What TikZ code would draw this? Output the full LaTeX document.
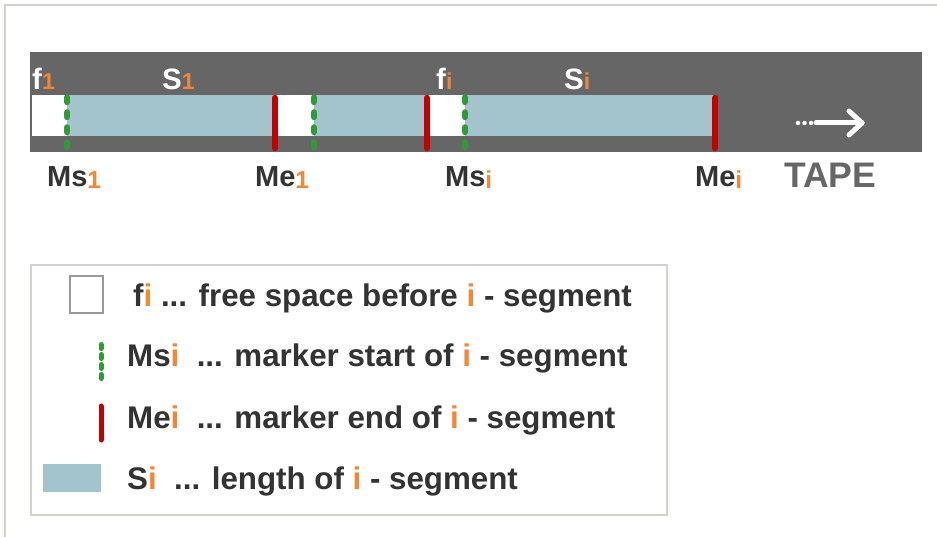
\documentclass[tikz,border=0pt]{standalone}
\usepackage{fontspec}
\setmainfont{Liberation Sans}
\usetikzlibrary{arrows.meta}
\definecolor{tapegray}{HTML}{666666}
\definecolor{segblue}{HTML}{A3C4CD}
\definecolor{markgreen}{HTML}{2E9B36}
\definecolor{markred}{HTML}{C40000}
\definecolor{idxorange}{HTML}{F58634}
\definecolor{txtdark}{HTML}{333333}
\definecolor{framegray}{HTML}{D2D1CA}
\newcommand\idx[1]{{\color{idxorange}#1}}
\tikzset{
  startmark/.style={markgreen, line width=6.5pt, line cap=round, dash pattern=on 4.5pt off 10.5pt},
  endmark/.style={markred, line width=6.5pt, line cap=round},
  toplabel/.style={anchor=base west, inner sep=0pt, text=white,
    font=\fontsize{29.5}{29.5}\selectfont\bfseries},
  botlabel/.style={anchor=base west, inner sep=0pt, text=txtdark,
    font=\fontsize{29}{29}\selectfont\bfseries},
  legtext/.style={anchor=base west, inner sep=0pt, text=txtdark,
    font=\fontsize{31.3}{31.3}\selectfont\bfseries},
}
\newcommand\topidx[1]{{\fontsize{23}{23}\selectfont\idx{#1}}}
\newcommand\botidx[1]{\raisebox{-2pt}{\fontsize{24.5}{24.5}\selectfont\idx{#1}}}
\begin{document}
\begin{tikzpicture}[x=1pt, y=-1pt]
\useasboundingbox (0,0) rectangle (937,537);
% page frame
\draw[framegray, line width=2pt] (5,537) -- (5,5) -- (937,5);

% tape body
\fill[tapegray] (30,52) rectangle (922,152);
\fill[white] (32,95) rectangle (715,136);
\fill[segblue] (67,95) rectangle (275,136);
\fill[segblue] (314,95) rectangle (427,136);
\fill[segblue] (465,95) rectangle (715,136);

% segment markers
\draw[startmark] (67,97.5) -- (67,150);
\draw[startmark] (314,97.5) -- (314,150);
\draw[startmark] (465,97.5) -- (465,150);
\draw[endmark] (275,98) -- (275,148);
\draw[endmark] (427,98) -- (427,148);
\draw[endmark] (715,98) -- (715,148);

% labels on the tape
\node[toplabel] (f1) at (32,90) {f\topidx{1}};
\node[toplabel] (s1) at (162,89.5) {S\topidx{1}};
\node[toplabel] (fi) at (436,90) {f\topidx{i}};
\node[toplabel] (si) at (564,89.5) {S\topidx{i}};

% labels below the tape
\node[botlabel] (ms1) at (47,187) {Ms\botidx{1}};
\node[botlabel] (me1) at (255,187) {Me\botidx{1}};
\node[botlabel] (msi) at (445,187) {Ms\botidx{i}};
\node[botlabel] (mei) at (695,187) {Me\botidx{i}};
\node[anchor=base west, inner sep=0pt, text=tapegray,
  font=\fontsize{35.5}{35.5}\selectfont\bfseries] (tape) at (784,188) {TAPE};

% direction arrow
\coordinate (adots) at (798,123);
\coordinate (ashaft) at (816,123);
\coordinate (atip) at (862,123);
\draw[white, line width=4.5pt, line cap=round, dash pattern=on 0pt off 6.5pt] (adots) -- (ashaft);
\draw[white, line width=5pt, line cap=round] (ashaft) -- (atip);
\draw[white, line width=5pt, line cap=round, line join=round]
  ([shift={(-13,-12)}]atip) -- (atip) -- ([shift={(-13,12)}]atip);

% legend
\draw[framegray, line width=2pt, fill=white] (31,265) rectangle (667,515);
\draw[gray!80, line width=1.2pt] (70,276) rectangle (103,313);
\draw[markgreen, line width=5pt, line cap=round, dash pattern=on 4pt off 6pt] (101,344.5) -- (101,379);
\draw[markred, line width=5pt, line cap=round] (101,406) -- (101,440);
\fill[segblue] (43,464) rectangle (101,492);

\node[legtext] (lf) at (133,306) {f\idx{i} ... free space before \idx{i} - segment};
\node[legtext] (lms) at (127,366) {Ms\idx{i}\ \ ... marker start of \idx{i} - segment};
\node[legtext] (lme) at (127,428) {Me\idx{i}\ \ ... marker end of \idx{i} - segment};
\node[legtext] (ls) at (127,489) {S\idx{i}\ \ ... length of \idx{i} - segment};
\end{tikzpicture}
\end{document}
